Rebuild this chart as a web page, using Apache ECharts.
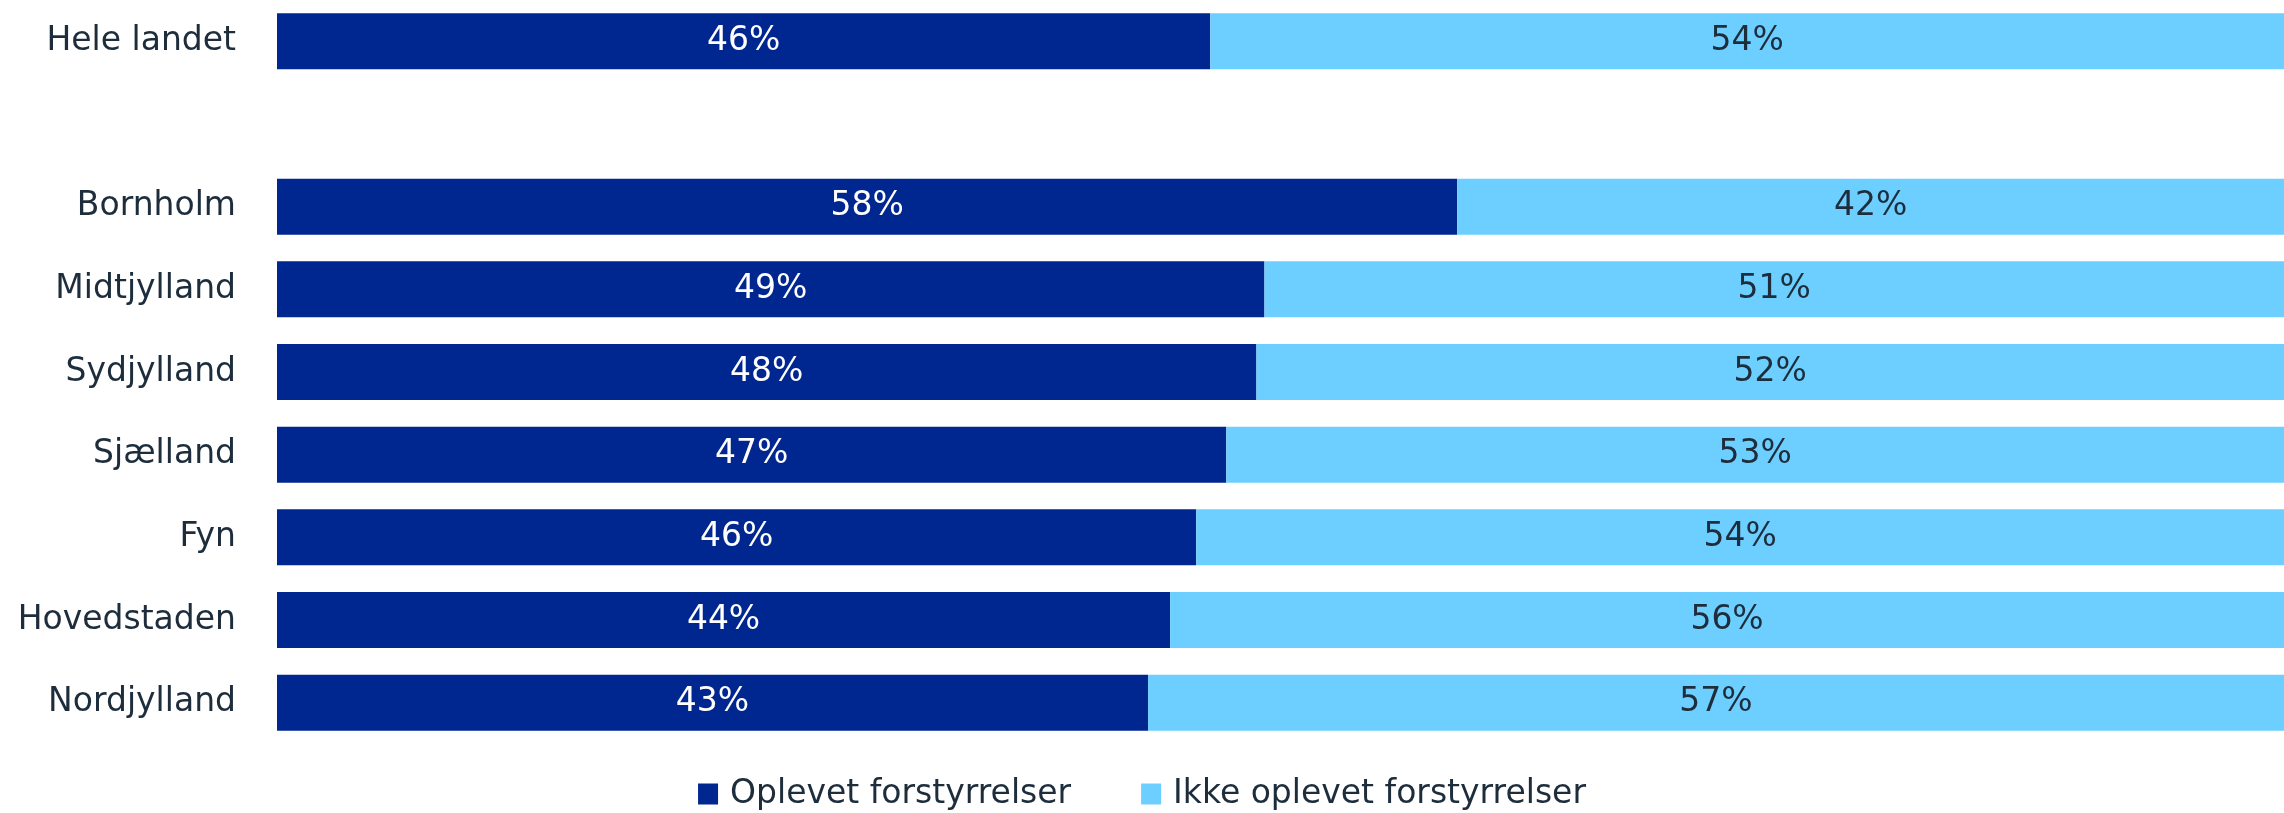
<!DOCTYPE html>
<html>
<head>
<meta charset="utf-8">
<script src="https://cdn.jsdelivr.net/npm/echarts@6/dist/echarts.min.js"></script>
<style>
  html, body { margin: 0; padding: 0; background: #fff; }
  #chart { width: 2284px; height: 813px; }
</style>
</head>
<body>
<div id="chart"></div>
<script>
// regions, top to bottom (empty slot separates the national total)
const regions = ['Hele landet', '', 'Bornholm', 'Midtjylland', 'Sydjylland', 'Sjælland', 'Fyn', 'Hovedstaden', 'Nordjylland']

// bar shares (%)
const oplevet = [46.5, null, 58.8, 49.2, 48.8, 47.3, 45.8, 44.5, 43.4]
const ikkeOplevet = [53.5, null, 41.2, 50.8, 51.2, 52.7, 54.2, 55.5, 56.6]

// printed labels
const oplevetLabels = ['46%', '', '58%', '49%', '48%', '47%', '46%', '44%', '43%']
const ikkeOplevetLabels = ['54%', '', '42%', '51%', '52%', '53%', '54%', '56%', '57%']

const seriesNames = ['Oplevet forstyrrelser', 'Ikke oplevet forstyrrelser']

const font = 'DejaVu Sans'
const textColor = '#1d2d3c'

const chart = echarts.init(document.getElementById('chart'))

const option = {
  backgroundColor: '#ffffff',
  animation: false,
  textStyle: { fontFamily: font },
  legend: {
    data: seriesNames,
    left: 'center',
    top: 772,
    icon: 'rect',
    itemWidth: 20,
    itemHeight: 21,
    itemGap: 70,
    textStyle: {
      fontFamily: font,
      fontSize: 33,
      color: textColor,
      lineHeight: 34,
      padding: [0, 0, 0, 7]
    }
  },
  grid: {
    left: 277,
    right: 0,
    top: -3,
    bottom: 69
  },
  xAxis: {
    type: 'value',
    min: 0,
    max: 100,
    show: false
  },
  yAxis: {
    type: 'category',
    data: regions,
    inverse: true,
    axisLine: { show: false },
    axisTick: { show: false },
    splitLine: { show: false },
    axisLabel: {
      margin: 41,
      fontFamily: font,
      fontSize: 33,
      color: textColor
    }
  },
  series: [
    {
      name: seriesNames[0],
      type: 'bar',
      stack: 'total',
      barWidth: 56,
      data: oplevet,
      itemStyle: { color: '#00268f' },
      label: {
        show: true,
        position: 'inside',
        fontFamily: font,
        fontSize: 33,
        color: '#ffffff',
        formatter: (p) => oplevetLabels[p.dataIndex]
      }
    },
    {
      name: seriesNames[1],
      type: 'bar',
      stack: 'total',
      barWidth: 56,
      data: ikkeOplevet,
      itemStyle: { color: '#6dcfff' },
      label: {
        show: true,
        position: 'inside',
        fontFamily: font,
        fontSize: 33,
        color: textColor,
        formatter: (p) => ikkeOplevetLabels[p.dataIndex]
      }
    }
  ]
}

chart.setOption(option)
</script>
</body>
</html>
